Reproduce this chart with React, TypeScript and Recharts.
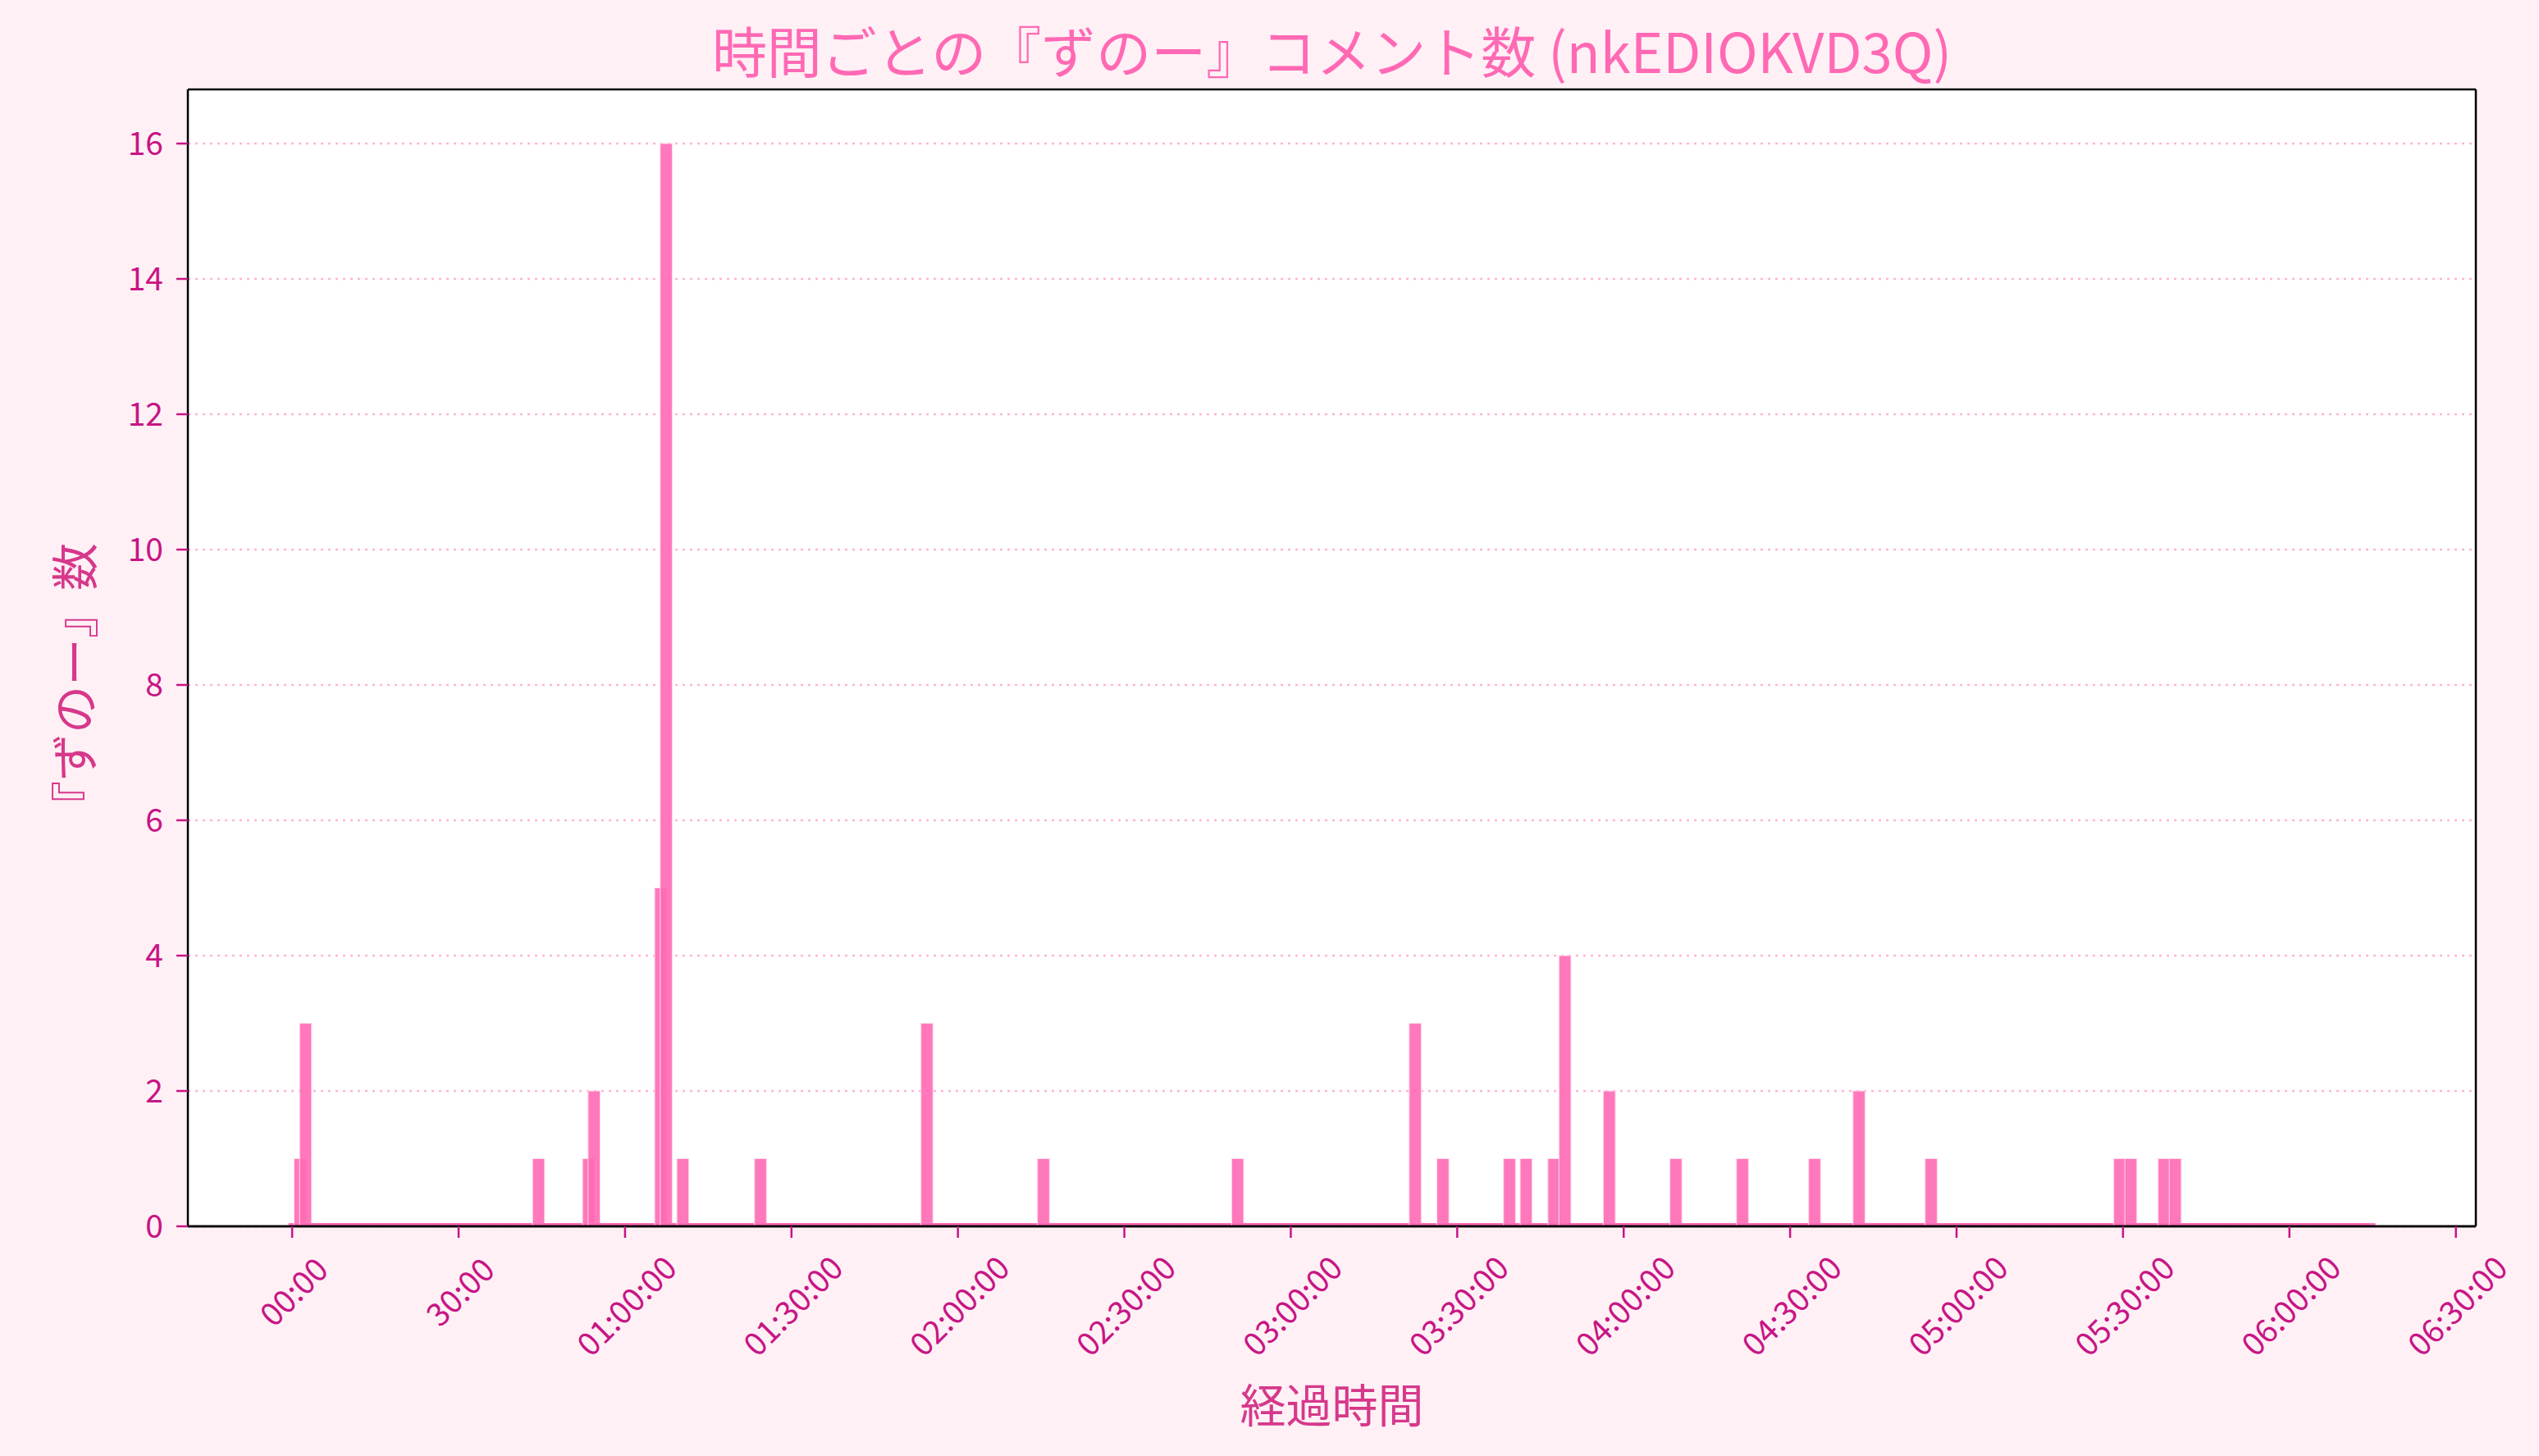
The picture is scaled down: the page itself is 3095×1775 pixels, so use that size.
import React from 'react';
import { BarChart, Bar, XAxis, YAxis, CartesianGrid, ReferenceLine } from 'recharts';

// ---- data ----
// one bin per elapsed minute; bins start 0.45 min after the stream start
const FIRST_BIN = 0;
const LAST_BIN = 374;
const BIN_OFFSET_MIN = 0.45;
// minutes with at least one comment, and their counts
const eventBins = [1, 2, 44, 53, 54, 66, 67, 70, 84, 114, 135, 170, 202, 207, 219, 222, 227, 229, 237, 249, 261, 274, 282, 295, 329, 331, 337, 339];
const eventCounts = [1, 3, 1, 1, 2, 5, 16, 1, 1, 3, 1, 1, 3, 1, 1, 1, 1, 4, 2, 1, 1, 1, 2, 1, 1, 1, 1, 1];

const xTickMinutes = [0, 30, 60, 90, 120, 150, 180, 210, 240, 270, 300, 330, 360, 390];
const xTickLabels = ['00:00', '30:00', '01:00:00', '01:30:00', '02:00:00', '02:30:00', '03:00:00', '03:30:00', '04:00:00', '04:30:00', '05:00:00', '05:30:00', '06:00:00', '06:30:00'];
const yTicks = [0, 2, 4, 6, 8, 10, 12, 14, 16];

const TITLE = '時間ごとの『ずのー』コメント数 (nkEDIOKVD3Q)';
const X_LABEL = '経過時間';
const Y_LABEL = '『ずのー』数';

// ---- layout / style ----
const W = 3095;
const H = 1775;
const PLOT_LEFT = 229;
const PLOT_RIGHT = 3018;
const PLOT_TOP = 109;
const PLOT_BOTTOM = 1495;
const XAXIS_H = 200;
const YAXIS_W = 140;
const X_DOMAIN: [number, number] = [-18.8, 393.6];
const Y_DOMAIN: [number, number] = [0, 16.8];
const BAR_WIDTH_MIN = 2.16; // bar width in minutes
const FONT = "'Noto Sans CJK JP', 'Noto Sans', sans-serif";
const TICK_FONT = 39;
const TICK_COLOR = '#c71585';
const LABEL_COLOR = '#d6388b';
const BG = '#fff0f5';

const table = (() => {
  const rows: { t: number; count: number }[] = [];
  for (let k = FIRST_BIN; k <= LAST_BIN; k++) {
    const i = eventBins.indexOf(k);
    rows.push({ t: k + BIN_OFFSET_MIN, count: i >= 0 ? eventCounts[i] : 0 });
  }
  return rows;
})();

const PX_PER_MIN = (PLOT_RIGHT - PLOT_LEFT) / (X_DOMAIN[1] - X_DOMAIN[0]);
const BAR_PX = BAR_WIDTH_MIN * PX_PER_MIN;

const estWidthEm = (s: string) => {
  let w = 0;
  for (const ch of s) w += ch === ':' ? 0.24 : 0.5;
  return w;
};

const XTick = (props: any) => {
  const { x, y, payload } = props;
  const idx = xTickMinutes.indexOf(payload.value);
  const label = idx >= 0 ? xTickLabels[idx] : '';
  const wPx = estWidthEm(label) * TICK_FONT;
  const h = (wPx + 0.66 * TICK_FONT) * Math.SQRT1_2;
  const cy = y + h / 2;
  return (
    <text
      x={x}
      y={cy}
      textAnchor="middle"
      dominantBaseline="central"
      transform={`rotate(-45 ${x} ${cy})`}
      fill={TICK_COLOR}
      fontSize={TICK_FONT}
      fontFamily={FONT}
    >
      {label}
    </text>
  );
};

const BarShape = (props: any) => {
  const { x, y, width, height, payload } = props;
  if (height == null || isNaN(height)) return null;
  const cx = x + width / 2;
  const zero = payload && payload.count === 0;
  return (
    <rect
      x={cx - BAR_PX / 2}
      y={y}
      width={BAR_PX}
      height={height}
      fill="#ff69b4"
      fillOpacity={0.9}
      stroke={zero ? 'none' : '#ffd9ea'}
      strokeWidth={1}
    />
  );
};

export default function App() {
  return (
    <div style={{ position: 'absolute', left: 0, top: 0, width: W, height: H, background: BG, overflow: 'hidden' }}>
      <BarChart
        width={W}
        height={H}
        data={table}
        margin={{ top: PLOT_TOP, right: W - PLOT_RIGHT, bottom: H - PLOT_BOTTOM - XAXIS_H, left: PLOT_LEFT - YAXIS_W }}
      >
        <CartesianGrid
          vertical={false}
          horizontal
          horizontalValues={yTicks}
          fill="#ffffff"
          stroke="#ffb3d6"
          strokeDasharray="3 6"
          strokeWidth={2.5}
        />
        <XAxis
          dataKey="t"
          type="number"
          domain={X_DOMAIN}
          allowDataOverflow
          ticks={xTickMinutes}
          interval={0}
          height={XAXIS_H}
          tickSize={14}
          tickMargin={24}
          tick={<XTick />}
          tickLine={{ stroke: TICK_COLOR, strokeWidth: 2.5 }}
          axisLine={{ stroke: '#000000', strokeWidth: 2.5 }}
        />
        <YAxis
          type="number"
          domain={Y_DOMAIN}
          allowDataOverflow
          ticks={yTicks}
          interval={0}
          width={YAXIS_W}
          tickSize={14}
          tickMargin={16}
          tick={{ fill: TICK_COLOR, fontSize: TICK_FONT, fontFamily: FONT }}
          tickLine={{ stroke: TICK_COLOR, strokeWidth: 2.5 }}
          axisLine={{ stroke: '#000000', strokeWidth: 2.5 }}
        />
        <Bar
          dataKey="count"
          isAnimationActive={false}
          minPointSize={4}
          fill="#ff69b4"
          shape={<BarShape />}
        />
        <ReferenceLine y={Y_DOMAIN[1]} stroke="#000000" strokeWidth={2.5} ifOverflow="visible" />
        <ReferenceLine x={X_DOMAIN[1]} stroke="#000000" strokeWidth={2.5} ifOverflow="visible" />
        <ReferenceLine y={Y_DOMAIN[0]} stroke="#000000" strokeWidth={2.5} ifOverflow="visible" />
      </BarChart>
      <div
        style={{
          position: 'absolute',
          left: (PLOT_LEFT + PLOT_RIGHT) / 2,
          top: 59,
          transform: 'translate(-50%, -50%)',
          whiteSpace: 'nowrap',
          fontFamily: FONT,
          fontSize: 67,
          color: '#ff69b4',
          lineHeight: 1,
        }}
      >
        {TITLE}
      </div>
      <div
        style={{
          position: 'absolute',
          left: (PLOT_LEFT + PLOT_RIGHT) / 2,
          top: 1710,
          transform: 'translate(-50%, -50%)',
          whiteSpace: 'nowrap',
          fontFamily: FONT,
          fontSize: 56,
          color: LABEL_COLOR,
          lineHeight: 1,
        }}
      >
        {X_LABEL}
      </div>
      <div
        style={{
          position: 'absolute',
          left: 88,
          top: (PLOT_TOP + PLOT_BOTTOM) / 2 + 34,
          transform: 'translate(-50%, -50%) rotate(-90deg)',
          whiteSpace: 'nowrap',
          fontFamily: FONT,
          fontSize: 58,
          color: LABEL_COLOR,
          lineHeight: 1,
        }}
      >
        {Y_LABEL}
      </div>
    </div>
  );
}
